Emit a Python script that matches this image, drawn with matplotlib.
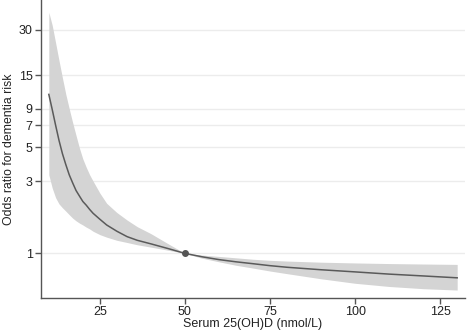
import matplotlib
matplotlib.use("Agg")
import matplotlib.pyplot as plt
from matplotlib.ticker import FixedLocator, NullLocator

plt.rcParams['font.family'] = ['Liberation Sans', 'DejaVu Sans']

# Serum 25(OH)D levels (nmol/L) and odds ratios with 95% CI, reference at 50
vitd = [10, 11, 12, 13, 14, 15, 16, 17, 18, 19, 20, 21, 22, 23, 25, 27, 30, 33,
        36, 40, 45, 50, 55, 60, 65, 70, 75, 80, 90, 100, 110, 120, 130]
odds = [11.2, 8.9, 7.0, 5.56, 4.55, 3.85, 3.3, 2.92, 2.6, 2.39, 2.2, 2.08,
        1.95, 1.84, 1.68, 1.54, 1.40, 1.29, 1.22, 1.156, 1.077, 1.0,
        0.95, 0.91, 0.88, 0.855, 0.83, 0.81, 0.78, 0.755, 0.73, 0.71, 0.69]
ci_upper = [39, 32, 24.5, 18.7, 14.4, 11.2, 9.0, 7.3, 6.0, 4.95, 4.2, 3.7,
            3.3, 3.0, 2.5, 2.14, 1.86, 1.66, 1.5, 1.35, 1.16, 1.0,
            0.975, 0.955, 0.935, 0.915, 0.9, 0.89, 0.875, 0.865, 0.857, 0.851, 0.846]
ci_lower = [3.3, 2.7, 2.33, 2.12, 2.0, 1.9, 1.8, 1.71, 1.64, 1.585, 1.54, 1.49,
            1.45, 1.40, 1.33, 1.28, 1.22, 1.18, 1.14, 1.10, 1.05, 1.0,
            0.93, 0.88, 0.835, 0.8, 0.765, 0.735, 0.68, 0.635, 0.605, 0.585, 0.573]
ref_x, ref_y = 50, 1.0

y_ticks = [1, 3, 5, 7, 9, 15, 30]
x_ticks = [25, 50, 75, 100, 125]

fig = plt.figure(figsize=(4.68, 3.35), dpi=100)
ax = fig.add_axes([0.0876, 0.1113, 0.906, 0.8887])

ax.fill_between(vitd, ci_lower, ci_upper, color='#d4d4d4', linewidth=0, zorder=2)
ax.plot(vitd, odds, color='#5a5a5a', linewidth=1.1, zorder=3)
ax.plot([ref_x], [ref_y], 'o', color='#555555', markersize=4, zorder=4)

ax.set_yscale('log')
ax.set_ylim(0.51, 47)
ax.set_xlim(7.7, 132.3)
ax.yaxis.set_major_locator(FixedLocator(y_ticks))
ax.yaxis.set_minor_locator(NullLocator())
ax.set_yticklabels([str(t) for t in y_ticks])
ax.set_xticks(x_ticks)

ax.grid(axis='y', color='#ececec', linewidth=1.0, zorder=1)
ax.set_axisbelow(True)

for side in ['top', 'right']:
    ax.spines[side].set_visible(False)
for side in ['left', 'bottom']:
    ax.spines[side].set_color('#555555')
    ax.spines[side].set_linewidth(1.0)

ax.tick_params(axis='both', direction='out', length=4, width=1.0,
               color='#555555', labelsize=9, labelcolor='#222222', pad=2)

ax.set_xlabel('Serum 25(OH)D (nmol/L)', fontsize=9, color='#222222', labelpad=0)
ax.set_ylabel('Odds ratio for dementia risk', fontsize=8.8, color='#222222')
ax.yaxis.set_label_coords(-0.062, 0.5)

fig.savefig('out.png', dpi=100)
